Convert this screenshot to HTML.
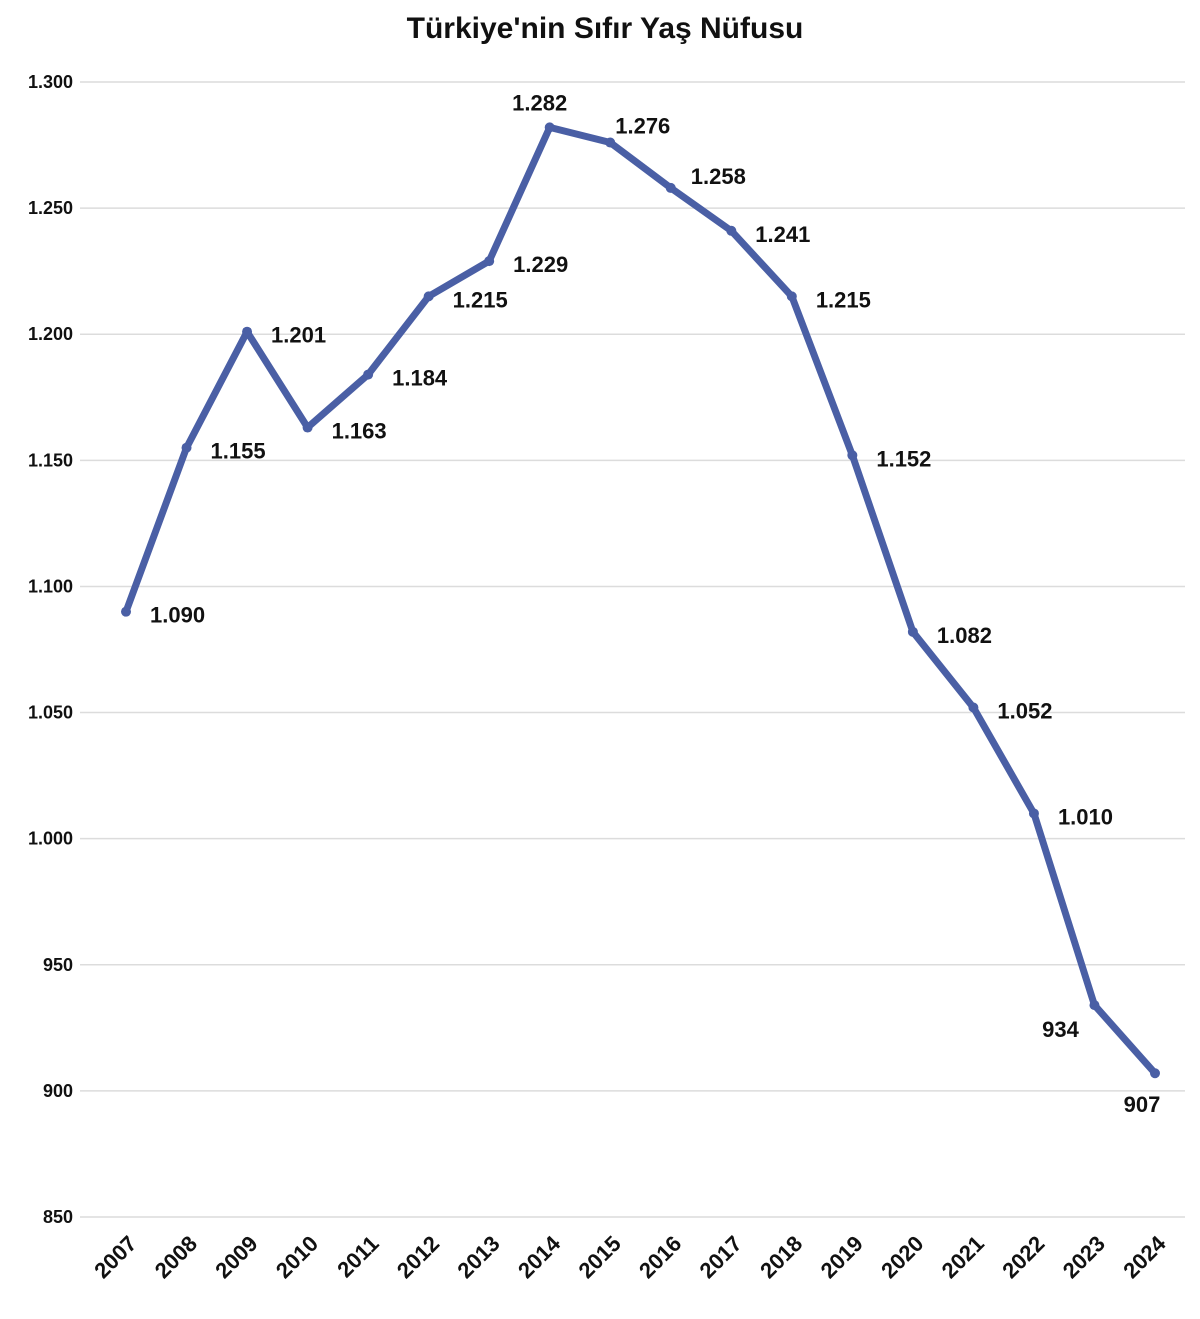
<!DOCTYPE html>
<html><head><meta charset="utf-8"><style>
body{margin:0;background:#fff;}
svg text{font-family:"Liberation Sans",Arial,sans-serif;font-weight:bold;fill:#111;}
</style></head><body>
<svg id="chart" width="1200" height="1314" viewBox="0 0 1200 1314" xmlns="http://www.w3.org/2000/svg">
<text x="605" y="38" text-anchor="middle" font-size="30">Türkiye'nin Sıfır Yaş Nüfusu</text>
<g id="grid"></g>
<g id="yticks"></g>
<g id="xticks"></g>
<g id="series"></g>
<g id="labels"></g>
</svg>
<script>
const years=["2007","2008","2009","2010","2011","2012","2013","2014","2015","2016","2017","2018","2019","2020","2021","2022","2023","2024"];
const values=[1090,1155,1201,1163,1184,1215,1229,1282,1276,1258,1241,1215,1152,1082,1052,1010,934,907];
const valueLabels=["1.090","1.155","1.201","1.163","1.184","1.215","1.229","1.282","1.276","1.258","1.241","1.215","1.152","1.082","1.052","1.010","934","907"];
const yTicks=[850,900,950,1000,1050,1100,1150,1200,1250,1300];
const yTickLabels=["850","900","950","1.000","1.050","1.100","1.150","1.200","1.250","1.300"];
const NS="http://www.w3.org/2000/svg";
const y=v=>1217-(v-850)*(1217-82)/450;
const x=i=>126+i*(1155-126)/(years.length-1);
function mk(t,a,p){const e=document.createElementNS(NS,t);for(const k in a)e.setAttribute(k,a[k]);p.appendChild(e);return e;}
const grid=document.getElementById('grid'),yt=document.getElementById('yticks'),xt=document.getElementById('xticks'),se=document.getElementById('series'),lb=document.getElementById('labels');
yTicks.forEach((v,i)=>{
 const l=mk('line',{x1:80,x2:1185,y1:y(v),y2:y(v),stroke:'#dcdcdc','stroke-width':1.5},grid);
 
 
 const t=mk('text',{x:73,y:y(v)+6,'text-anchor':'end','font-size':18},yt);
 t.textContent=yTickLabels[i];
 
 
});
years.forEach((yr,i)=>{
 const t=mk('text',{x:x(i)+12,y:1245,'text-anchor':'end','font-size':22,transform:`rotate(-45 ${x(i)+12} 1245)`},xt);
 t.textContent=yr;
 
 
});
const pts=values.map((v,i)=>x(i)+','+y(v)).join(' ');
const pl=mk('polyline',{points:pts,fill:'none',stroke:'#4a5fa5','stroke-width':7,'stroke-linejoin':'round','stroke-linecap':'round'},se);


const offs={7:[-10,-25,'middle'],8:[5,-17,'start'],9:[20,-12,'start'],16:[-34,24,'middle'],17:[-13,31,'middle']};
values.forEach((v,i)=>{
 const c=mk('circle',{cx:x(i),cy:y(v),r:5,fill:'#4a5fa5'},se);
 
 
 const o=offs[i]||[24,3,'start'];
 const t=mk('text',{x:x(i)+o[0],y:y(v)+o[1]+8,'text-anchor':o[2],'font-size':22},lb);
 t.textContent=valueLabels[i];
 
 
});
</script>
</body></html>
